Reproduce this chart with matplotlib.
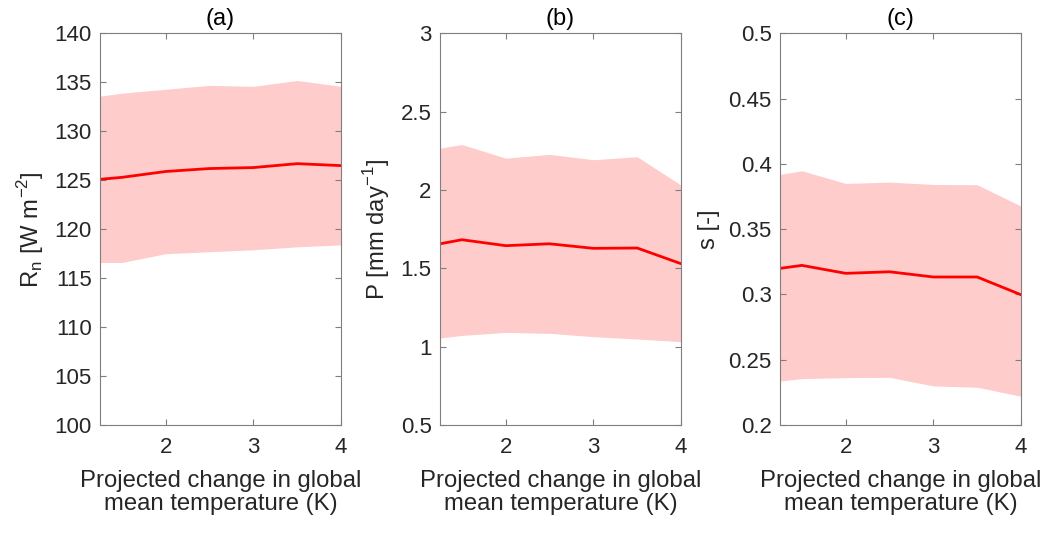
import matplotlib.pyplot as plt

plt.rcParams['font.family'] = ['Liberation Sans', 'DejaVu Sans']

warming = [1.25, 1.5, 2, 2.5, 3, 3.5, 4]

rn_mean = [125.1, 125.3, 125.9, 126.2, 126.3, 126.7, 126.5]
rn_upper = [133.6, 133.9, 134.3, 134.7, 134.6, 135.2, 134.6]
rn_lower = [116.6, 116.6, 117.5, 117.7, 117.9, 118.2, 118.4]

p_mean = [1.657, 1.683, 1.645, 1.657, 1.628, 1.630, 1.530]
p_upper = [2.268, 2.291, 2.204, 2.228, 2.194, 2.213, 2.032]
p_lower = [1.055, 1.072, 1.091, 1.085, 1.064, 1.049, 1.032]

s_mean = [0.320, 0.3223, 0.3162, 0.3174, 0.3134, 0.3134, 0.2998]
s_upper = [0.392, 0.3948, 0.3851, 0.3861, 0.3843, 0.3841, 0.3677]
s_lower = [0.2337, 0.2355, 0.2363, 0.2365, 0.2299, 0.2289, 0.2220]

titles = ["(a)", "(b)", "(c)"]
ylabels = [r"R$_\mathregular{n}$ [W m$^\mathregular{-2}$]",
           r"P [mm day$^\mathregular{-1}$]",
           "s [-]"]
ylims = [(100, 140), (0.5, 3), (0.2, 0.5)]
yticks = [[100, 105, 110, 115, 120, 125, 130, 135, 140],
          [0.5, 1, 1.5, 2, 2.5, 3],
          [0.2, 0.25, 0.3, 0.35, 0.4, 0.45, 0.5]]
yticklabels = [[str(t) for t in yticks[0]],
               ["0.5", "1", "1.5", "2", "2.5", "3"],
               ["0.2", "0.25", "0.3", "0.35", "0.4", "0.45", "0.5"]]

series = [(rn_mean, rn_lower, rn_upper), (p_mean, p_lower, p_upper), (s_mean, s_lower, s_upper)]
lefts = [100 / 1052, 440 / 1052, 780 / 1052]

fig = plt.figure(figsize=(10.52, 5.4), dpi=100)
text_color = "#262626"
axis_color = "#7f7f7f"

for i, (mean, lower, upper) in enumerate(series):
    ax = fig.add_axes([lefts[i], 0.213, 241 / 1052, 0.725])
    ax.fill_between(warming, lower, upper, color="#ffcccc", linewidth=0)
    ax.plot(warming, mean, color="#ff0000", linewidth=2)
    ax.set_xlim(1.25, 4)
    ax.set_ylim(*ylims[i])
    ax.set_xticks([2, 3, 4])
    ax.set_yticks(yticks[i])
    ax.set_yticklabels(yticklabels[i])
    ax.tick_params(direction="in", length=4, width=0.8, colors=axis_color,
                   labelcolor=text_color, labelsize=16, top=True, right=True)
    ax.tick_params(axis="x", pad=9)
    ax.tick_params(axis="y", pad=6)
    for spine in ax.spines.values():
        spine.set_color(axis_color)
        spine.set_linewidth(0.8)
    ax.set_title(titles[i], fontsize=17, color="black", pad=6)
    ax.set_xlabel("Projected change in global\nmean temperature (K)", fontsize=17.2,
                  color=text_color, labelpad=8, linespacing=1.1)
    ax.set_ylabel(ylabels[i], fontsize=17.2, color=text_color, labelpad=6)

plt.savefig("out.png", dpi=100)
plt.close()
